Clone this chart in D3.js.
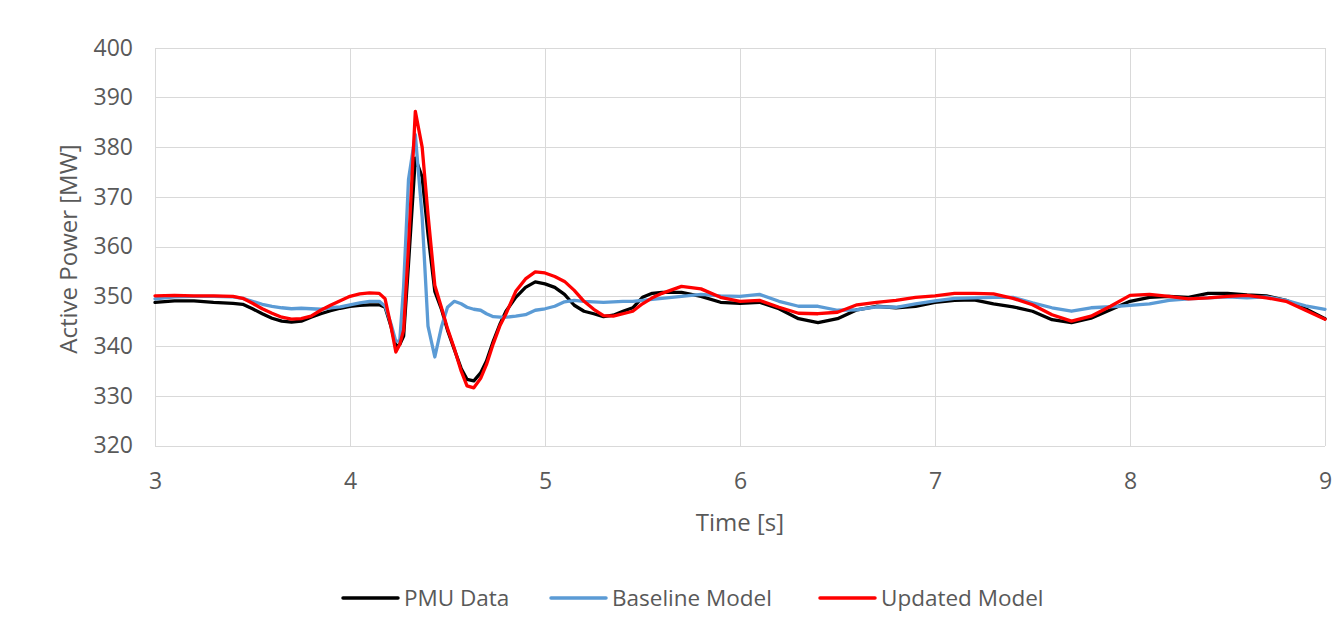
<!DOCTYPE html>
<html>
<head>
<meta charset="utf-8">
<script src="https://cdn.jsdelivr.net/npm/d3@7/dist/d3.min.js"></script>
<style>
  html, body { margin: 0; padding: 0; background: #ffffff; }
  svg { display: block; }
  text { font-family: "Open Sans", "Noto Sans", sans-serif; fill: #595959; }
</style>
</head>
<body>
<svg id="chart" width="1344" height="634"></svg>
<script>
// ---- Data ----
const time = [
  3.0, 3.1, 3.2, 3.3, 3.4, 3.45, 3.5, 3.55, 3.6, 3.65, 3.7, 3.75, 3.8, 3.85, 3.9, 3.95,
  4.0, 4.05, 4.1, 4.15,
  4.18, 4.21, 4.235, 4.255, 4.275, 4.3, 4.335, 4.37, 4.4, 4.435, 4.47, 4.5, 4.535, 4.57, 4.6, 4.635, 4.67, 4.7, 4.735, 4.77, 4.8,
  4.85, 4.9, 4.95, 5.0, 5.05, 5.1, 5.15, 5.2, 5.25, 5.3, 5.35, 5.4, 5.45, 5.5, 5.55,
  5.6, 5.7, 5.8, 5.9, 6.0, 6.1, 6.2, 6.3, 6.4, 6.5, 6.6, 6.7, 6.8, 6.9, 7.0, 7.1, 7.2, 7.3, 7.4, 7.5,
  7.6, 7.7, 7.8, 7.9, 8.0, 8.1, 8.2, 8.3, 8.4, 8.5, 8.6, 8.7, 8.8, 8.9, 9.0
];

const pmuData = [
  348.8, 349.1, 349.1, 348.8, 348.6, 348.4, 347.5, 346.5, 345.6, 345.0, 344.8, 345.0, 345.8, 346.5, 347.1, 347.6,
  348.0, 348.2, 348.3, 348.3,
  347.8, 344.0, 340.0, 340.3, 342.0, 356.5, 377.8, 374.0, 362.5, 351.0, 347.3, 343.2, 339.3, 335.5, 333.3, 333.0, 334.6, 337.0, 341.0, 344.5, 347.0,
  349.8, 351.8, 352.9, 352.5, 351.8, 350.4, 348.2, 347.0, 346.5, 345.9, 346.2, 347.0, 347.7, 349.8, 350.6,
  350.8, 350.8, 350.0, 348.8, 348.6, 348.8, 347.5, 345.5, 344.7, 345.5, 347.3, 348.0, 347.7, 348.0, 348.8, 349.2, 349.3, 348.5, 347.9, 347.0,
  345.3, 344.7, 345.6, 347.3, 349.0, 349.8, 350.0, 349.8, 350.6, 350.6, 350.3, 350.1, 349.2, 347.5, 345.5
];

const baselineModel = [
  349.5, 349.9, 350.0, 350.0, 349.9, 349.6, 349.0, 348.4, 348.0, 347.7, 347.5, 347.6, 347.5, 347.4, 347.7, 347.9,
  348.3, 348.7, 349.0, 349.0,
  348.0, 344.5, 341.0, 341.0, 352.0, 373.5, 382.5, 366.0, 344.0, 337.8, 344.0, 347.8, 349.0, 348.5, 347.8, 347.4, 347.2, 346.5, 345.9, 345.8, 345.8,
  346.0, 346.3, 347.2, 347.5, 348.0, 348.9, 349.2, 349.0, 348.9, 348.8, 348.9, 349.0, 349.0, 349.2, 349.4,
  349.6, 350.0, 350.4, 350.1, 350.0, 350.4, 349.0, 348.0, 348.0, 347.2, 347.3, 347.9, 347.8, 348.5, 349.1, 349.6, 349.7, 349.8, 349.8, 348.7,
  347.7, 347.0, 347.7, 347.9, 348.2, 348.5, 349.2, 349.5, 349.7, 349.9, 349.7, 349.9, 349.2, 348.1, 347.4
];

const updatedModel = [
  350.1, 350.2, 350.1, 350.1, 350.0, 349.6, 348.6, 347.5, 346.6, 345.8, 345.4, 345.5, 346.0, 347.2, 348.2, 349.1,
  350.0, 350.5, 350.7, 350.6,
  349.5, 344.0, 338.8, 340.3, 343.2, 360.0, 387.2, 380.0, 366.5, 352.2, 347.6, 343.5, 339.5, 335.0, 332.0, 331.6, 333.5, 336.3, 340.5, 344.2, 346.5,
  351.0, 353.5, 354.9, 354.7, 354.0, 353.0, 351.2, 349.0, 347.4, 346.1, 346.0, 346.5, 347.0, 348.5, 349.7,
  350.6, 352.0, 351.5, 349.8, 349.0, 349.2, 347.8, 346.6, 346.5, 346.8, 348.3, 348.8, 349.2, 349.8, 350.1, 350.6, 350.6, 350.5, 349.6, 348.3,
  346.3, 345.0, 346.0, 348.0, 350.2, 350.4, 350.0, 349.5, 349.7, 350.0, 350.2, 349.7, 349.0, 347.2, 345.4
];

const seriesNames = ["PMU Data", "Baseline Model", "Updated Model"];
const seriesColors = ["#000000", "#5B9BD5", "#FF0000"];
const xTicks = [3, 4, 5, 6, 7, 8, 9];
const yTicks = [320, 330, 340, 350, 360, 370, 380, 390, 400];
const xTitle = "Time [s]";
const yTitle = "Active Power [MW]";

// ---- Drawing ----
const svg = d3.select("#chart");
const plotLeft = 155, plotRight = 1325, plotTop = 47.7, plotBottom = 445.5;

const x = d3.scaleLinear().domain([3, 9]).range([plotLeft, plotRight]);
const y = d3.scaleLinear().domain([320, 400]).range([plotBottom, plotTop]);

// gridlines
const grid = svg.append("g").attr("stroke", "#d9d9d9").attr("stroke-width", 1.3).attr("shape-rendering", "crispEdges");
grid.selectAll("line.h").data(yTicks).join("line")
  .attr("x1", plotLeft).attr("x2", plotRight)
  .attr("y1", d => Math.round(y(d)) + 0.5).attr("y2", d => Math.round(y(d)) + 0.5);
grid.selectAll("line.v").data(xTicks).join("line")
  .attr("y1", plotTop).attr("y2", plotBottom)
  .attr("x1", d => Math.round(x(d)) + 0.5).attr("x2", d => Math.round(x(d)) + 0.5);

// axes (labels only)
const yAxis = svg.append("g").attr("transform", `translate(${plotLeft},0)`)
  .call(d3.axisLeft(y).tickValues(yTicks).tickSize(0).tickPadding(22).tickFormat(d3.format("d")));
const xAxis = svg.append("g").attr("transform", `translate(0,${plotBottom})`)
  .call(d3.axisBottom(x).tickValues(xTicks).tickSize(0).tickPadding(27).tickFormat(d3.format("d")));
[yAxis, xAxis].forEach(a => {
  a.select(".domain").remove();
  a.selectAll("text").style("font-size", "23px").attr("fill", "#595959")
    .style("font-family", '"Open Sans", sans-serif');
});

// titles
svg.append("text").attr("x", 740).attr("y", 531).attr("text-anchor", "middle")
  .style("font-size", "24px").text(xTitle);
svg.append("text").attr("transform", "translate(77,249) rotate(-90)").attr("text-anchor", "middle")
  .style("font-size", "24px").text(yTitle);

// lines
const seriesValues = [pmuData, baselineModel, updatedModel];
const line = d3.line().x((d, i) => x(time[i])).y(d => y(d)).curve(d3.curveLinear);
svg.append("g").selectAll("path").data(seriesValues).join("path")
  .attr("d", d => line(d))
  .attr("fill", "none")
  .attr("stroke", (d, i) => seriesColors[i])
  .attr("stroke-width", 3.3)
  .attr("stroke-linejoin", "round")
  .attr("stroke-linecap", "round");

// legend
const legendX = [343, 551, 820];
const lg = svg.append("g");
seriesNames.forEach((name, i) => {
  lg.append("line").attr("x1", legendX[i]).attr("x2", legendX[i] + 55)
    .attr("y1", 598).attr("y2", 598)
    .attr("stroke", seriesColors[i]).attr("stroke-width", 3.5).attr("stroke-linecap", "round");
  lg.append("text").attr("x", legendX[i] + 61).attr("y", 606)
    .style("font-size", "22.5px").text(name);
});
</script>
</body>
</html>
